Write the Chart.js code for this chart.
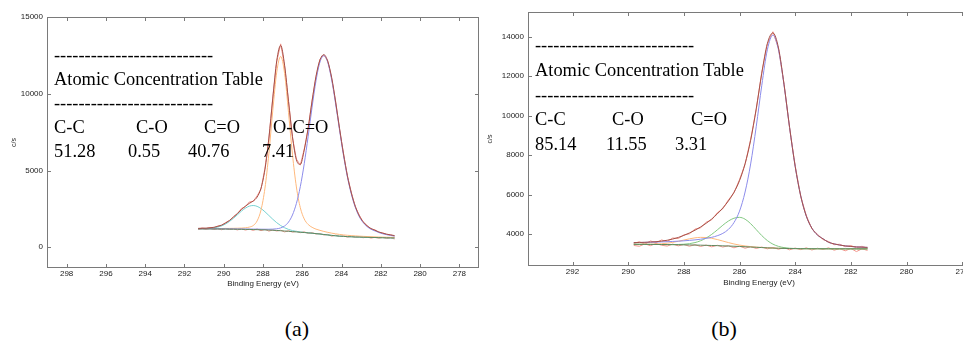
<!DOCTYPE html>
<html>
<head>
<meta charset="utf-8">
<title>XPS C1s fits</title>
<script src="https://cdn.jsdelivr.net/npm/chart.js@4.4.0/dist/chart.umd.min.js"></script>
<style>
  html, body { margin: 0; padding: 0; width: 963px; height: 342px; overflow: hidden; background: #fff; }
  canvas { position: absolute; top: 0; }
  #chartA { left: 0; }
  #chartB { left: 480px; }
  .t { position: absolute; font-family: 'Liberation Serif', 'Times New Roman', serif; font-size: 18.4px; line-height: 1; color: #000; white-space: pre; }
  .cap { position: absolute; width: 80px; text-align: center; font-family: 'Liberation Serif', 'Times New Roman', serif; font-size: 22px; line-height: 1; color: #000; }
</style>
</head>
<body>
<canvas id="chartA" width="490" height="300"></canvas>
<canvas id="chartB" width="520" height="300"></canvas>

<!-- panel (a) table -->
<div class="t" style="left:54px;top:45.6px">--------------------------</div>
<div class="t" style="left:54px;top:69.6px">Atomic Concentration Table</div>
<div class="t" style="left:54px;top:93.6px">--------------------------</div>
<div class="t" style="left:54px;top:117.6px">C-C</div>
<div class="t" style="left:136px;top:117.6px">C-O</div>
<div class="t" style="left:204px;top:117.6px">C=O</div>
<div class="t" style="left:273px;top:117.6px">O-C=O</div>
<div class="t" style="left:54px;top:141.6px">51.28</div>
<div class="t" style="left:128px;top:141.6px">0.55</div>
<div class="t" style="left:188px;top:141.6px">40.76</div>
<div class="t" style="left:262px;top:141.6px">7.41</div>

<!-- panel (b) table -->
<div class="t" style="left:535px;top:36.1px">--------------------------</div>
<div class="t" style="left:535px;top:61.1px">Atomic Concentration Table</div>
<div class="t" style="left:535px;top:85.6px">--------------------------</div>
<div class="t" style="left:535px;top:110.1px">C-C</div>
<div class="t" style="left:612px;top:110.1px">C-O</div>
<div class="t" style="left:691px;top:110.1px">C=O</div>
<div class="t" style="left:535px;top:134.6px">85.14</div>
<div class="t" style="left:606px;top:134.6px">11.55</div>
<div class="t" style="left:675px;top:134.6px">3.31</div>

<div class="cap" style="left:257px;top:318px">(a)</div>
<div class="cap" style="left:684px;top:318px">(b)</div>

<script>
// ---------- panel (a) data ----------
const aEnergy = [291.3, 291.1, 290.9, 290.7, 290.5, 290.3, 290.1, 289.9, 289.7, 289.5,
  289.3, 289.1, 288.9, 288.7, 288.5, 288.3, 288.1, 287.9, 287.7, 287.5,
  287.3, 287.1, 286.9, 286.7, 286.5, 286.3, 286.1, 285.9, 285.7, 285.5,
  285.3, 285.1, 284.9, 284.7, 284.5, 284.3, 284.1, 283.9, 283.7, 283.5,
  283.3, 283.1, 282.9, 282.7, 282.5, 282.3, 282.1, 281.9, 281.7, 281.5, 281.3];
const aRaw = [1180, 1260, 1215, 1290, 1270, 1390, 1420, 1620, 1730, 2010,
  2180, 2530, 2640, 2950, 2990, 3350, 3800, 5150, 7060, 9800,
  12100, 13250, 11800, 9550, 7150, 5750, 5350, 6400, 7720, 9580,
  11100, 12250, 12520, 12150, 10980, 9500, 7680, 6120, 4620, 3570,
  2640, 2100, 1640, 1420, 1190, 1140, 970, 940, 830, 820, 720];
const aResidual = [1150, 1220, 1170, 1230, 1160, 1210, 1140, 1230, 1160, 1200,
  1130, 1210, 1120, 1180, 1100, 1190, 1080, 1170, 1050, 1130,
  1060, 1110, 1000, 1080, 990, 1040, 950, 1010, 900, 960,
  860, 900, 800, 840, 720, 790, 700, 750, 660, 720,
  640, 690, 620, 670, 600, 650, 590, 640, 570, 620, 540];
const aEnvelope = [1233, 1239, 1249, 1268, 1302, 1362, 1450, 1580, 1755, 1969,
  2210, 2453, 2674, 2859, 3012, 3268, 3853, 5080, 7117, 9717,
  12150, 13150, 11856, 9494, 7209, 5700, 5400, 6334, 7774, 9519,
  11145, 12200, 12550, 12100, 11035, 9454, 7728, 6079, 4657, 3530,
  2674, 2065, 1666, 1398, 1224, 1110, 1000, 917, 855, 803, 761];
const aBackground = [1200, 1198, 1196, 1194, 1192, 1190, 1187, 1184, 1181, 1178,
  1174, 1170, 1165, 1160, 1154, 1148, 1140, 1132, 1122, 1110,
  1095, 1078, 1060, 1040, 1020, 1000, 980, 960, 940, 915,
  890, 862, 832, 802, 774, 748, 726, 708, 694, 682,
  672, 663, 655, 648, 641, 635, 629, 623, 617, 611, 605];
const aCC = [1211, 1210, 1209, 1207, 1206, 1205, 1203, 1201, 1200, 1198,
  1196, 1193, 1191, 1188, 1185, 1183, 1178, 1175, 1176, 1183,
  1204, 1260, 1386, 1641, 2103, 2851, 3948, 5441, 7226, 9133,
  10854, 12060, 12472, 12035, 10889, 9327, 7617, 5981, 4570, 3452,
  2604, 2002, 1609, 1346, 1176, 1066, 960, 880, 820, 770, 730];
const aCdO = [1219, 1219, 1219, 1220, 1221, 1223, 1224, 1226, 1230, 1235,
  1241, 1249, 1267, 1314, 1415, 1716, 2434, 3856, 6116, 8930,
  11412, 12428, 11320, 8769, 6059, 3928, 2580, 1845, 1485, 1301,
  1181, 1102, 1032, 972, 920, 875, 837, 806, 781, 760,
  742, 726, 712, 700, 689, 679, 669, 660, 652, 644, 636];
const aOCdO = [1203, 1206, 1213, 1229, 1259, 1314, 1397, 1521, 1687, 1892,
  2121, 2351, 2546, 2677, 2720, 2665, 2521, 2313, 2069, 1824,
  1601, 1415, 1270, 1164, 1087, 1035, 997, 968, 943, 915,
  890, 862, 832, 802, 774, 748, 726, 708, 694, 682,
  672, 663, 655, 648, 641, 635, 629, 623, 617, 611, 605];
const aXTicks = [298, 296, 294, 292, 290, 288, 286, 284, 282, 280, 278];
const aYTicks = [0, 5000, 10000, 15000];

// ---------- panel (b) data ----------
const bEnergy = [289.8, 289.6, 289.4, 289.2, 289.0, 288.8, 288.6, 288.4, 288.2, 288.0,
  287.8, 287.6, 287.4, 287.2, 287.0, 286.8, 286.6, 286.4, 286.2, 286.0,
  285.8, 285.6, 285.4, 285.2, 285.0, 284.8, 284.6, 284.4, 284.2, 284.0,
  283.8, 283.6, 283.4, 283.2, 283.0, 282.8, 282.6, 282.4, 282.2, 282.0,
  281.8, 281.6, 281.4];
const bRaw = [3520, 3610, 3480, 3650, 3560, 3700, 3620, 3800, 3770, 3960,
  4010, 4250, 4310, 4600, 4720, 5080, 5280, 5730, 6080, 6760,
  7530, 8800, 10300, 12200, 13620, 14250, 13400, 11600, 9360, 7460,
  5900, 4940, 4260, 3990, 3720, 3620, 3460, 3480, 3360, 3420,
  3300, 3380, 3280];
const bResidual = [3420, 3380, 3500, 3410, 3520, 3430, 3390, 3490, 3400, 3470,
  3380, 3460, 3370, 3440, 3350, 3430, 3340, 3410, 3300, 3390,
  3280, 3360, 3270, 3340, 3250, 3320, 3230, 3310, 3200, 3290,
  3210, 3300, 3190, 3280, 3220, 3300, 3180, 3260, 3150, 3270,
  3110, 3250, 3170];
const bEnvelope = [3565, 3573, 3581, 3594, 3613, 3641, 3684, 3746, 3827, 3930,
  4053, 4193, 4356, 4543, 4759, 5019, 5320, 5674, 6115, 6707,
  7565, 8753, 10341, 12147, 13650, 14190, 13431, 11577, 9398, 7431,
  5928, 4906, 4297, 3951, 3759, 3581, 3500, 3440, 3399, 3369,
  3348, 3333, 3323];
const bBackground = [3480, 3478, 3476, 3474, 3471, 3468, 3465, 3461, 3457, 3452,
  3447, 3441, 3435, 3428, 3420, 3411, 3402, 3392, 3381, 3369,
  3356, 3342, 3328, 3314, 3300, 3288, 3278, 3270, 3264, 3260,
  3257, 3255, 3254, 3253, 3252, 3251, 3250, 3250, 3249, 3249,
  3248, 3248, 3248];
const bCC = [3565, 3571, 3577, 3584, 3592, 3601, 3611, 3624, 3638, 3656,
  3678, 3703, 3737, 3779, 3832, 3913, 4033, 4234, 4579, 5160,
  6129, 7550, 9435, 11536, 13335, 14078, 13334, 11535, 9382, 7425,
  5928, 4906, 4297, 3951, 3759, 3581, 3500, 3440, 3399, 3369,
  3348, 3333, 3323];
const bCO = [3480, 3478, 3476, 3474, 3471, 3468, 3467, 3467, 3471, 3483,
  3512, 3566, 3658, 3796, 3982, 4207, 4446, 4657, 4801, 4845,
  4752, 4524, 4224, 3921, 3668, 3487, 3375, 3312, 3280, 3266,
  3257, 3255, 3254, 3253, 3252, 3251, 3250, 3250, 3249, 3249,
  3248, 3248, 3248];
const bCdO = [3480, 3480, 3480, 3484, 3492, 3508, 3536, 3577, 3632, 3695,
  3757, 3806, 3831, 3824, 3785, 3721, 3645, 3567, 3497, 3440,
  3396, 3363, 3338, 3318, 3302, 3288, 3278, 3270, 3264, 3260,
  3257, 3255, 3254, 3253, 3252, 3251, 3250, 3250, 3249, 3249,
  3248, 3248, 3248];
const bXTicks = [292, 290, 288, 286, 284, 282, 280, 278];
const bYTicks = [4000, 6000, 8000, 10000, 12000, 14000];

// colours
const COL_RAW = 'rgb(242,150,140)';
const COL_ENV = 'rgb(165,80,72)';
const COL_BG = 'rgb(95,135,95)';
const COL_BLUE = 'rgb(140,140,235)';
const COL_ORANGE = 'rgb(255,185,125)';
const COL_CYAN = 'rgb(120,210,210)';
const COL_GREEN = 'rgb(130,200,130)';
const AXIS_FONT = "'Liberation Sans', Arial, sans-serif";

function line(energy, values, color, smooth) {
    return {
        data: energy.map((e, i) => ({ x: e, y: values[i] })),
        borderColor: color,
        borderWidth: 1,
        pointRadius: 0,
        fill: false,
        tension: 0,
        cubicInterpolationMode: smooth ? 'monotone' : 'default'
    };
}

// matlab-like box with ticks pointing inwards
const framePlugin = {
    id: 'frame',
    afterDraw(chart) {
        const { ctx, chartArea: a, scales: { x, y } } = chart;
        ctx.save();
        ctx.strokeStyle = '#7a7a7a';
        ctx.lineWidth = 1;
        ctx.strokeRect(Math.round(a.left) + 0.5, Math.round(a.top) + 0.5,
            Math.round(a.width) - 1, Math.round(a.height) - 1);
        ctx.beginPath();
        x.ticks.forEach(t => {
            const p = Math.round(x.getPixelForValue(t.value)) + 0.5;
            ctx.moveTo(p, a.bottom); ctx.lineTo(p, a.bottom - 4);
            ctx.moveTo(p, a.top); ctx.lineTo(p, a.top + 4);
        });
        y.ticks.forEach(t => {
            const p = Math.round(y.getPixelForValue(t.value)) + 0.5;
            ctx.moveTo(a.left, p); ctx.lineTo(a.left + 4, p);
            ctx.moveTo(a.right, p); ctx.lineTo(a.right - 4, p);
        });
        ctx.stroke();
        ctx.restore();
    }
};

function makeChart(id, o) {
    const tickFont = { family: AXIS_FONT, size: 8 };
    return new Chart(document.getElementById(id), {
        type: 'line',
        data: { datasets: o.datasets },
        options: {
            responsive: false,
            animation: false,
            devicePixelRatio: 1,
            layout: { padding: o.padding },
            plugins: { legend: { display: false }, tooltip: { enabled: false } },
            scales: {
                x: {
                    type: 'linear', reverse: true, min: o.xMin, max: o.xMax,
                    afterBuildTicks: s => { s.ticks = o.xTicks.map(v => ({ value: v })); },
                    afterFit: s => { s.height = o.xHeight; },
                    grid: { display: false, drawTicks: false },
                    border: { display: false },
                    ticks: { padding: 1, font: tickFont, color: '#222', maxRotation: 0, autoSkip: false, callback: v => String(v) },
                    title: { display: true, text: 'Binding Energy (eV)', font: tickFont, color: '#222', padding: 0 }
                },
                y: {
                    type: 'linear', min: o.yMin, max: o.yMax,
                    afterBuildTicks: s => { s.ticks = o.yTicks.map(v => ({ value: v })); },
                    afterFit: s => { s.width = o.yWidth; },
                    grid: { display: false, drawTicks: false },
                    border: { display: false },
                    ticks: { padding: 4, font: tickFont, color: '#222', callback: v => String(v) },
                    title: { display: true, text: 'c/s', font: { family: AXIS_FONT, size: 7 }, color: '#222', padding: { top: o.yTitlePad, bottom: 0 } }
                }
            }
        },
        plugins: [framePlugin]
    });
}

makeChart('chartA', {
    datasets: [
        line(aEnergy, aEnvelope, COL_ENV, true),
        line(aEnergy, aBackground, COL_BG, true),
        line(aEnergy, aCC, COL_BLUE, true),
        line(aEnergy, aCdO, COL_ORANGE, true),
        line(aEnergy, aOCdO, COL_CYAN, true),
        line(aEnergy, aResidual, COL_RAW, false),
        line(aEnergy, aRaw, COL_RAW, false)
    ],
    xMin: 277, xMax: 299, xTicks: aXTicks,
    yMin: -1350, yMax: 15000, yTicks: aYTicks,
    padding: { left: 0, top: 17, right: 11, bottom: 11 },
    xHeight: 21, yWidth: 47, yTitlePad: 10
});

makeChart('chartB', {
    datasets: [
        line(bEnergy, bEnvelope, COL_ENV, true),
        line(bEnergy, bBackground, COL_BG, true),
        line(bEnergy, bCC, COL_BLUE, true),
        line(bEnergy, bCO, COL_GREEN, true),
        line(bEnergy, bCdO, COL_ORANGE, true),
        line(bEnergy, bResidual, COL_RAW, false),
        line(bEnergy, bRaw, COL_RAW, false)
    ],
    xMin: 277, xMax: 293.6, xTicks: bXTicks,
    yMin: 2380, yMax: 15250, yTicks: bYTicks,
    padding: { left: 0, top: 12, right: 10, bottom: 12 },
    xHeight: 22, yWidth: 48, yTitlePad: 6
});
</script>
</body>
</html>
